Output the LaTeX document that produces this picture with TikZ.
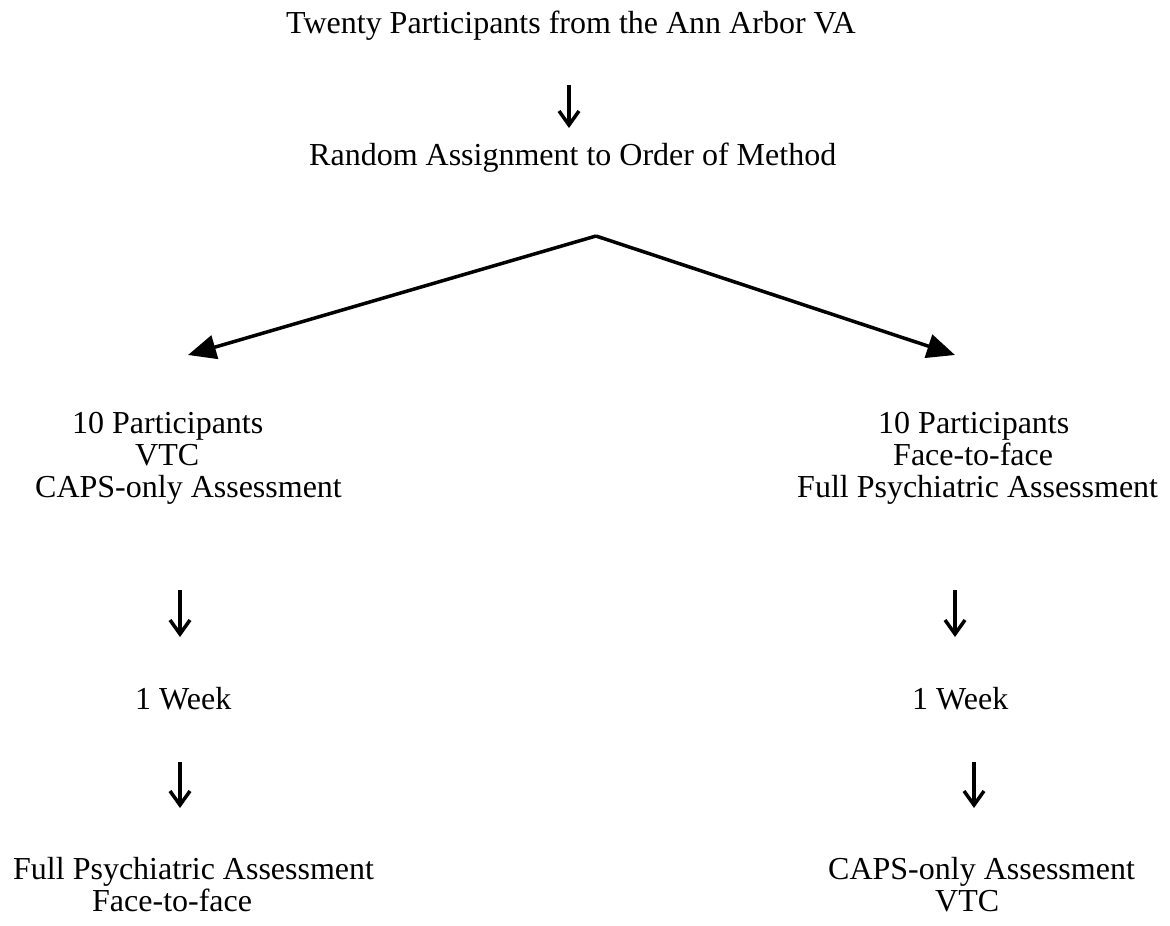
\documentclass[tikz,border=0pt]{standalone}
\usepackage{fontspec}
\setmainfont{Liberation Serif}
\usetikzlibrary{arrows.meta}
\tikzset{
  lbl/.style={anchor=base west, inner sep=0pt, font=\fontsize{32pt}{37pt}\selectfont},
  smallarr/.style={line width=3.5pt, -{Straight Barb[length=14pt,width=20pt]}},
  bigarr/.style={line width=3.5pt, -{Triangle[length=28pt,width=24pt]}},
}
\begin{document}
\begin{tikzpicture}[x=1pt,y=-1pt]
\useasboundingbox (0,0) rectangle (1170,926);
% texts
\node[lbl] (title) at (286,33) {Twenty Participants from the Ann Arbor VA};
\node[lbl] (rand) at (309,165) {Random Assignment to Order of Method};
\node[lbl] (l1) at (72,433) {10 Participants};
\node[lbl] (l2) at (135,465) {VTC};
\node[lbl] (l3) at (35,497) {CAPS-only Assessment};
\node[lbl] (r1) at (878,433) {10 Participants};
\node[lbl] (r2) at (893,465) {Face-to-face};
\node[lbl] (r3) at (797,497) {Full Psychiatric Assessment};
\node[lbl] (lw) at (135,709) {1 Week};
\node[lbl] (rw) at (912,709) {1 Week};
\node[lbl] (lb1) at (13,879) {Full Psychiatric Assessment};
\node[lbl] (lb2) at (92,911) {Face-to-face};
\node[lbl] (rb1) at (828,879) {CAPS-only Assessment};
\node[lbl] (rb2) at (935,911) {VTC};
% connector endpoints
\coordinate (a0) at (569,85);  \coordinate (a1) at (569,128);
\coordinate (apex) at (596,236);
\coordinate (vl) at (188,355); \coordinate (vr) at (955,355);
\coordinate (la0) at (180,590); \coordinate (la1) at (180,637);
\coordinate (lb0) at (180,762); \coordinate (lbb) at (180,808);
\coordinate (ra0) at (955,590); \coordinate (ra1) at (955,637);
\coordinate (rb0) at (974,762); \coordinate (rbb) at (974,808);
% connectors
\draw[smallarr] (a0) -- (a1);
\draw[bigarr] (apex) -- (vl);
\draw[bigarr] (apex) -- (vr);
\draw[smallarr] (la0) -- (la1);
\draw[smallarr] (lb0) -- (lbb);
\draw[smallarr] (ra0) -- (ra1);
\draw[smallarr] (rb0) -- (rbb);
\end{tikzpicture}
\end{document}
